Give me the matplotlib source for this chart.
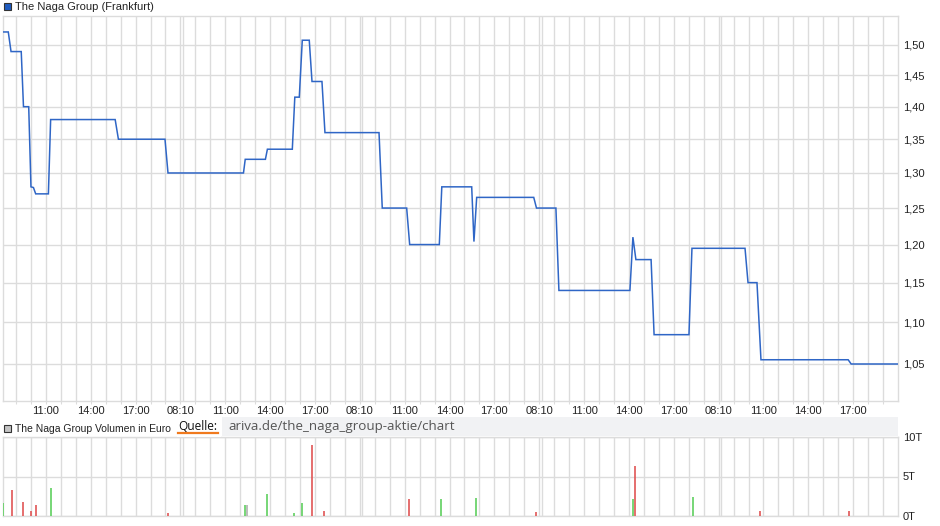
import matplotlib
matplotlib.use("Agg")
import matplotlib.pyplot as plt
from matplotlib.patches import Rectangle
import numpy as np

# ---------------- data ----------------
price_day = [0, 0, 0, 0, 0, 0, 0, 0, 0, 0, 0, 0, 0, 0, 0,
             1, 1, 1, 1, 1, 1, 1, 1, 1, 1, 1, 1,
             2, 2, 2, 2, 2, 2, 2, 2, 2, 2, 2,
             3, 3, 3, 3, 3, 3, 3, 3, 3,
             4, 4, 4, 4, 4, 4, 4, 4]
price_time = ["08:09", "08:29", "08:40", "09:21", "09:30", "09:51", "10:00", "10:10",
              "10:19", "11:10", "11:19", "15:38", "15:51", "18:58", "19:10",
              "12:13", "12:20", "13:41", "13:49", "15:29", "15:39", "15:57", "16:09",
              "16:37", "16:48", "17:28", "17:40",
              "09:17", "09:30", "11:08", "11:20", "13:19", "13:29", "15:29", "15:38",
              "15:49", "19:38", "19:49",
              "09:07", "09:19", "14:04", "14:16", "14:28", "15:29", "15:41", "18:01", "18:13",
              "09:46", "09:58", "10:34", "10:50", "16:40", "16:52", "20:00"]
price = [1.522, 1.522, 1.489, 1.489, 1.400, 1.400, 1.280, 1.279,
         1.270, 1.270, 1.380, 1.380, 1.350, 1.350, 1.300,
         1.300, 1.320, 1.320, 1.335, 1.335, 1.415, 1.415, 1.508,
         1.508, 1.440, 1.440, 1.360,
         1.360, 1.250, 1.250, 1.200, 1.200, 1.280, 1.280, 1.204,
         1.265, 1.265, 1.250,
         1.250, 1.140, 1.140, 1.210, 1.180, 1.180, 1.085, 1.085, 1.195,
         1.195, 1.150, 1.150, 1.055, 1.055, 1.050, 1.050]

vol_day = [0, 0, 0, 0, 0, 0, 0,
           1, 1, 1, 1, 1, 1, 1,
           2, 2, 2, 2,
           3, 3, 3,
           4, 4]
vol_time = ["08:09", "08:43", "09:30", "10:02", "10:22", "11:22", "19:11",
            "12:20", "12:28", "13:49", "15:37", "16:09", "16:49", "17:38",
            "11:19", "13:27", "15:47", "19:49",
            "14:17", "14:26", "18:19",
            "10:47", "16:44"]
vol = [1.6, 3.25, 1.73, 0.6, 1.35, 3.5, 0.34,
       1.35, 1.35, 2.74, 0.34, 1.6, 8.95, 0.6,
       2.1, 2.1, 2.24, 0.46,
       2.1, 6.3, 2.36,
       0.6, 0.6]
vol_dir = ["up", "down", "down", "down", "down", "up", "down",
           "up", "flat", "up", "up", "up", "down", "down",
           "down", "up", "up", "down",
           "up", "down", "up",
           "down", "down"]

n_days = 5
price_ticks = [1.05, 1.10, 1.15, 1.20, 1.25, 1.30, 1.35, 1.40, 1.45, 1.50]
vol_ticks = [0, 5, 10]
vol_tick_labels = ["0T", "5T", "10T"]
day_labels = {0: "08:10", 3: "11:00", 6: "14:00", 9: "17:00"}

title_price = "The Naga Group (Frankfurt)"
title_vol = "The Naga Group Volumen in Euro"
source_label = "Quelle:"
source_url = "ariva.de/the_naga_group-aktie/chart"

# ---------------- helpers ----------------
def to_h(day, hhmm):
    hh, mm = hhmm.split(":")
    return 12 * day + int(hh) + int(mm) / 60.0 - 8.0

px = np.array([to_h(d, t) for d, t in zip(price_day, price_time)])
vx = np.array([to_h(d, t) for d, t in zip(vol_day, vol_time)])

plt.rcParams['font.family'] = ['Liberation Sans', 'DejaVu Sans']
GRID = '#dcdcdc'
TXT = '#222222'
W, H = 940, 526
fig = plt.figure(figsize=(W / 100, H / 100), dpi=100)
fig.patch.set_facecolor('white')

def fx(p):
    return p / W

def fy(p):
    return 1 - p / H

xmin, xmax = 0.11, 60.0
L, R = fx(2.7), fx(898)

# ---------------- price axes ----------------
ax = fig.add_axes([L, fy(401), R - L, fy(16) - fy(401)])
ax.set_yscale('log')
ax.set_xlim(xmin, xmax)
ax.set_ylim(1.00745, 1.5494)

hours = np.arange(1, 12 * n_days)
def setup_x(a, labels=True):
    a.set_xticks(hours)
    labs = []
    for h in hours:
        d, r = divmod(int(h), 12)
        lab = day_labels.get(r, "")
        if r == 0 and d == 0:
            lab = ""
        labs.append(lab if labels else "")
    a.set_xticklabels(labs)
    for d in range(1, n_days):
        a.axvline(12 * d + 0.16, color=GRID, lw=1, zorder=0)
    a.grid(True, axis='x', color=GRID, lw=1, zorder=0)
    a.tick_params(axis='x', length=2, color=GRID, pad=1.5, labelsize=8, labelcolor=TXT)
    for s in a.spines.values():
        s.set_color(GRID)
        s.set_linewidth(1)

setup_x(ax)
ax.yaxis.set_major_locator(matplotlib.ticker.FixedLocator(price_ticks))
ax.yaxis.set_minor_locator(matplotlib.ticker.NullLocator())
ax.set_yticklabels([f"{v:.2f}".replace('.', ',') for v in price_ticks])
ax.yaxis.tick_right()
ax.tick_params(axis='y', length=0, pad=3.5, labelsize=8, labelcolor=TXT)
ax.grid(True, axis='y', color=GRID, lw=1, zorder=0)
ax.set_axisbelow(True)
ax.plot(px, price, color='#2f66c6', lw=1.1, zorder=3, solid_joinstyle='miter')

# ---------------- volume axes ----------------
av = fig.add_axes([L, fy(516), R - L, fy(437) - fy(516)])
av.set_xlim(xmin, xmax)
av.set_ylim(0, 10)
setup_x(av, labels=False)
av.tick_params(axis='x', length=0)
av.set_yticks(vol_ticks)
av.set_yticklabels(vol_tick_labels)
av.yaxis.tick_right()
av.tick_params(axis='y', length=0, pad=3.5, labelsize=8, labelcolor=TXT)
av.grid(True, axis='y', color=GRID, lw=1, zorder=0)
av.set_axisbelow(True)
cmap = {"up": '#5fcf5f', "down": '#e05555', "flat": '#b0b0b0'}
av.vlines(vx, 0, vol, colors=[cmap[c] for c in vol_dir], lw=1.2, zorder=3)

# ---------------- overlay (legends, source) ----------------
ov = fig.add_axes([0, 0, 1, 1], zorder=10)
ov.set_xlim(0, W)
ov.set_ylim(H, 0)
ov.axis('off')
ov.add_patch(Rectangle((3.5, 2.5), 7, 7, facecolor='#1f5cc0', edgecolor='#333333', lw=0.8))
ov.text(15, 6.6, title_price, fontsize=8, color=TXT, va='center', ha='left')
ov.add_patch(Rectangle((3.5, 424.5), 7, 7, facecolor='#c4c4c4', edgecolor='#333333', lw=0.8))
ov.text(15, 428.5, title_vol, fontsize=7.45, color=TXT, va='center', ha='left', zorder=1)
ov.add_patch(Rectangle((177, 417), 44, 20, facecolor='white', edgecolor='none', zorder=2))
ov.add_patch(Rectangle((222, 417), 676, 19, facecolor='#f1f2f4', edgecolor='none', zorder=2))
ov.text(178.5, 426.5, source_label, fontsize=8.6, color='#111111', va='center', ha='left',
        family=['Open Sans', 'DejaVu Sans'], zorder=3)
ov.plot([178, 218], [432.8, 432.8], color='#f07a1e', lw=1.6, zorder=3)
ov.text(228, 426.5, source_url, fontsize=9.6, color='#555555', va='center', ha='left',
        family=['Open Sans', 'DejaVu Sans'], zorder=3)

fig.savefig('out.png', dpi=100, facecolor='white')
